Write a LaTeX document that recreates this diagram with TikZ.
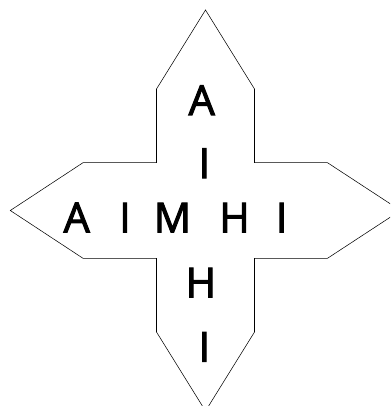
\documentclass[tikz,border=0pt]{standalone}
\usepackage{fontspec}
\setmainfont{Open Sans}
\newfontfamily\letterfont[FakeBold=2.5]{Open Sans}
\begin{document}
\begin{tikzpicture}[x=0.75pt, y=-0.75pt,
    letter/.style={anchor=base, inner sep=0pt, font=\letterfont\fontsize{31}{31}\selectfont}]
    % Frame
    \useasboundingbox (0,0) rectangle (390,406);
    \clip (0,0) rectangle (390,406);

    % Cross outline with pointed arms
    \draw[thin] (205.5,10) -- (254.5,89) -- (254.5,162.7) -- (327.5,162.7) -- (400.5,210.5)
        -- (327.5,258.3) -- (254.5,258.3) -- (254.5,332) -- (205.5,411) -- (156.5,332)
        -- (156.5,258.3) -- (83,258.3) -- (10.3,210.5) -- (83,162.7) -- (156.5,162.7)
        -- (156.5,89) -- cycle;

    % Horizontal word
    \node[letter] (rowA) at (76.7,232.3) {A};
    \node[letter] (rowI) at (125,232.3) {I};
    \node[letter] (rowM) at (172.5,232.3) {M};
    \node[letter] (rowH) at (234.5,232.3) {H};
    \node[letter] (rowII) at (281.7,232.3) {I};

    % Vertical word
    \node[letter] (colA) at (201.7,115) {A};
    \node[letter] (colI) at (204.3,178) {I};
    \node[letter] (colH) at (200.8,297.3) {H};
    \node[letter] (colII) at (204.3,361.7) {I};
\end{tikzpicture}
\end{document}
